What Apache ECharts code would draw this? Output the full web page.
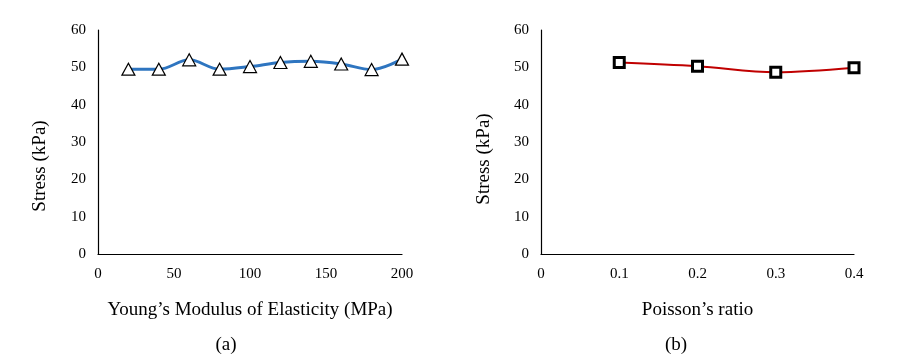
<!DOCTYPE html>
<html><head><meta charset="utf-8">
<script src="https://cdn.jsdelivr.net/npm/echarts@6/dist/echarts.min.js"></script>
<style>html,body{margin:0;padding:0;background:#fff}#c{width:922px;height:356px}</style>
</head><body><div id="c"></div>
<script>
const modulusX = [20, 40, 60, 80, 100, 120, 140, 160, 180, 200];
const modulusStress = [49.5, 49.5, 52.0, 49.5, 50.2, 51.3, 51.6, 50.9, 49.4, 52.2];
const poissonX = [0.1, 0.2, 0.3, 0.4];
const poissonStress = [51.3, 50.3, 48.7, 49.9];
const leftXTitle = "Young\u2019s Modulus of Elasticity (MPa)";
const rightXTitle = "Poisson\u2019s ratio";
const yTitle = "Stress (kPa)";
const panelLabels = ["(a)", "(b)"];

const font = "Liberation Serif";
const axisLine = {show: true, lineStyle: {color: '#000', width: 1.2}};
function yAx(gi) {
  return {type: 'value', gridIndex: gi, min: 0, max: 60, interval: 10,
    axisLine: axisLine, axisTick: {show: false}, splitLine: {show: false},
    axisLabel: {color: '#000', fontFamily: font, fontSize: 15, margin: 12}};
}
function xAx(gi, max, interval, name) {
  return {type: 'value', gridIndex: gi, min: 0, max: max, interval: interval,
    axisLine: axisLine, axisTick: {show: false}, splitLine: {show: false},
    axisLabel: {color: '#000', fontFamily: font, fontSize: 15, margin: 13},
    name: name, nameLocation: 'middle', nameGap: 47,
    nameTextStyle: {color: '#000', fontFamily: font, fontSize: 19}};
}
function yTitleText(x, y) {
  return {type: 'text', x: x, y: y, rotation: Math.PI / 2,
    style: {text: yTitle, font: '19px "Liberation Serif"', fill: '#000', align: 'center', verticalAlign: 'middle'}};
}
const chart = echarts.init(document.getElementById('c'), null, {renderer: 'canvas'});
chart.setOption({
  backgroundColor: '#fff',
  animation: false,
  grid: [
    {left: 98, right: 520, top: 30, bottom: 102},
    {left: 541, right: 68, top: 30, bottom: 102}
  ],
  xAxis: [xAx(0, 200, 50, leftXTitle), xAx(1, 0.4, 0.1, rightXTitle)],
  yAxis: [yAx(0), yAx(1)],
  graphic: [
    yTitleText(40, 166),
    yTitleText(484, 159),
    {type: 'text', x: 226, y: 345, style: {text: panelLabels[0], font: '19px "Liberation Serif"', fill: '#000', align: 'center', verticalAlign: 'middle'}},
    {type: 'text', x: 676, y: 345, style: {text: panelLabels[1], font: '19px "Liberation Serif"', fill: '#000', align: 'center', verticalAlign: 'middle'}}
  ],
  series: [
    {type: 'line', xAxisIndex: 0, yAxisIndex: 0, smooth: 0.35,
     data: modulusX.map((x, i) => [x, modulusStress[i]]),
     lineStyle: {color: '#2E75C0', width: 3},
     symbol: 'triangle', symbolSize: [13, 12],
     itemStyle: {color: '#fff', borderColor: '#000', borderWidth: 1.2}},
    {type: 'line', xAxisIndex: 1, yAxisIndex: 1, smooth: 0.35,
     data: poissonX.map((x, i) => [x, poissonStress[i]]),
     lineStyle: {color: '#C00000', width: 2},
     symbol: 'rect', symbolSize: 10,
     itemStyle: {color: '#fff', borderColor: '#000', borderWidth: 3}}
  ]
});
</script></body></html>
